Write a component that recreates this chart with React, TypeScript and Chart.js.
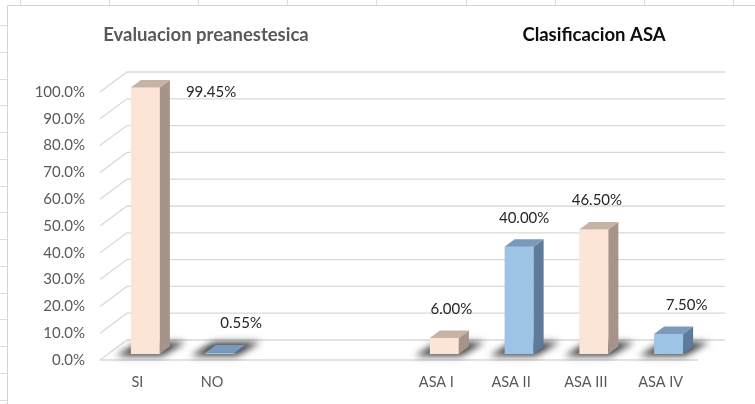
import React, { useEffect, useRef } from "react";
import { Chart, registerables } from "chart.js";

Chart.register(...registerables);

// ---- data ----
const evalCategories = ["SI", "NO"];
const evalValues = [99.45, 0.55];
const gapCategories = ["", ""];
const asaCategories = ["ASA I", "ASA II", "ASA III", "ASA IV"];
const asaValues = [6.0, 40.0, 46.5, 7.5];
const chartTitles = ["Evaluacion preanestesica", "Clasificacion ASA"];
const yMin = 0;
const yMax = 100;
const yStep = 10;

const labels = [...evalCategories, ...gapCategories, ...asaCategories];
const values: (number | null)[] = [
  ...evalValues,
  ...gapCategories.map(() => null),
  ...asaValues,
];

// ---- styling ----
const PEACH = { front: "#FCE4D6", side: "#A69389", top: "#C7B2A6" };
const BLUE = { front: "#9DC3E6", side: "#5E7B9B", top: "#7A99BD" };
const palette = [
  ...evalValues.map((_, i) => (i % 2 === 0 ? PEACH : BLUE)),
  ...gapCategories.map(() => PEACH),
  ...asaValues.map((_, i) => (i % 2 === 0 ? PEACH : BLUE)),
];
const FONT = "Lato, 'Noto Sans', sans-serif";
const GRID = "#d9d9d9";
const FLOOR = { dx: 27, dy: -20 };
const BAR_DEPTH = { dx: 10, dy: -7.5 };
const SHIFT = { dx: 8, dy: -6 };
const LABEL_NUDGE = [0, 16, 0, 0, 2, 0, -2, 13];

const threeD = {
  id: "threeD",
  beforeDraw(chart: any) {
    const { ctx, width, height } = chart;
    ctx.save();
    ctx.fillStyle = "#ffffff";
    ctx.fillRect(0, 0, width, height);
    ctx.strokeStyle = "#dcdcdc";
    ctx.lineWidth = 1;
    ctx.beginPath();
    for (let x = 20; x < width; x += 89.1) {
      ctx.moveTo(Math.round(x) + 0.5, 0);
      ctx.lineTo(Math.round(x) + 0.5, 5);
    }
    for (let y = 25; y < height; y += 26.75) {
      ctx.moveTo(0, Math.round(y) + 0.5);
      ctx.lineTo(7, Math.round(y) + 0.5);
    }
    ctx.stroke();
    ctx.strokeStyle = "#d4d4d4";
    ctx.beginPath();
    ctx.moveTo(7.5, height);
    ctx.lineTo(7.5, 5.5);
    ctx.lineTo(width, 5.5);
    ctx.stroke();
    ctx.restore();
  },
  beforeDatasetsDraw(chart: any) {
    const { ctx, chartArea, scales } = chart;
    const ys = scales.y;
    const L = chartArea.left;
    const R = chartArea.right;
    ctx.save();
    ctx.strokeStyle = GRID;
    ctx.lineWidth = 1.3;
    ctx.beginPath();
    for (let v = yMin; v <= yMax; v += yStep) {
      const yF = ys.getPixelForValue(v);
      ctx.moveTo(L, yF);
      ctx.lineTo(L + FLOOR.dx, yF + FLOOR.dy);
      ctx.lineTo(R + FLOOR.dx, yF + FLOOR.dy);
    }
    const y0 = ys.getPixelForValue(yMin);
    ctx.moveTo(L, y0);
    ctx.lineTo(R, y0);
    ctx.stroke();
    ctx.restore();

    const meta = chart.getDatasetMeta(0);
    ctx.save();
    ctx.filter = "blur(3.5px)";
    ctx.fillStyle = "rgba(40,40,40,0.9)";
    meta.data.forEach((bar: any, i: number) => {
      if (values[i] == null) return;
      const xl = bar.x - bar.width / 2 + SHIFT.dx;
      const xr = bar.x + bar.width / 2 + SHIFT.dx;
      const b = bar.base + SHIFT.dy;
      ctx.beginPath();
      ctx.moveTo(xl - 15, b + 2);
      ctx.lineTo(xr + 2, b + 2);
      ctx.lineTo(xr + 26, b - 12);
      ctx.lineTo(xl + 8, b - 12);
      ctx.closePath();
      ctx.fill();
    });
    ctx.restore();

    ctx.save();
    ctx.translate(SHIFT.dx, SHIFT.dy);
  },
  afterDatasetsDraw(chart: any) {
    const { ctx, chartArea } = chart;
    const meta = chart.getDatasetMeta(0);
    meta.data.forEach((bar: any, i: number) => {
      if (values[i] == null) return;
      const c = palette[i];
      const xl = bar.x - bar.width / 2;
      const xr = bar.x + bar.width / 2;
      const t = bar.y;
      const b = bar.base;
      ctx.fillStyle = c.side;
      ctx.beginPath();
      ctx.moveTo(xr, t);
      ctx.lineTo(xr + BAR_DEPTH.dx, t + BAR_DEPTH.dy);
      ctx.lineTo(xr + BAR_DEPTH.dx, b + BAR_DEPTH.dy);
      ctx.lineTo(xr, b);
      ctx.closePath();
      ctx.fill();
      ctx.fillStyle = c.top;
      ctx.beginPath();
      ctx.moveTo(xl, t);
      ctx.lineTo(xl + BAR_DEPTH.dx, t + BAR_DEPTH.dy);
      ctx.lineTo(xr + BAR_DEPTH.dx, t + BAR_DEPTH.dy);
      ctx.lineTo(xr, t);
      ctx.closePath();
      ctx.fill();
    });
    ctx.restore();

    ctx.save();
    ctx.font = `15px ${FONT}`;
    ctx.fillStyle = "#262626";
    ctx.textAlign = "center";
    ctx.textBaseline = "middle";
    meta.data.forEach((bar: any, i: number) => {
      const v = values[i];
      if (v == null) return;
      const txt = v.toFixed(2) + "%";
      const tw = ctx.measureText(txt).width;
      const top = bar.y + SHIFT.dy;
      let cx = bar.x + SHIFT.dx + BAR_DEPTH.dx / 2 + LABEL_NUDGE[i];
      let cy = top - 29;
      if (cy - 8 < chartArea.top) {
        cx = bar.x + SHIFT.dx + bar.width / 2 + BAR_DEPTH.dx + 16 + tw / 2;
        cy = top + 5;
      }
      ctx.fillText(txt, cx, cy);
    });
    ctx.restore();
  },
  afterDraw(chart: any) {
    const { ctx } = chart;
    ctx.save();
    ctx.textAlign = "center";
    ctx.textBaseline = "middle";
    ctx.font = `bold 18.5px ${FONT}`;
    ctx.fillStyle = "#595959";
    ctx.fillText(chartTitles[0], 206, 35);
    ctx.fillStyle = "#0d0d0d";
    ctx.fillText(chartTitles[1], 594, 35);
    ctx.restore();
  },
};

export default function App() {
  const ref = useRef<HTMLCanvasElement>(null);
  useEffect(() => {
    const chart = new Chart(ref.current as HTMLCanvasElement, {
      type: "bar",
      data: {
        labels,
        datasets: [
          {
            data: values as any,
            backgroundColor: palette.map((c) => c.front),
            borderWidth: 0,
            categoryPercentage: 1,
            barPercentage: 0.388,
            clip: false as any,
          },
        ],
      },
      options: {
        animation: false,
        responsive: false,
        devicePixelRatio: 1,
        layout: { padding: { top: 92, right: 57, bottom: 0, left: 0 } },
        plugins: {
          legend: { display: false },
          title: { display: false },
          tooltip: { enabled: false },
        },
        scales: {
          x: {
            grid: { display: false, drawTicks: false },
            border: { display: false },
            ticks: {
              color: "#595959",
              font: { family: FONT, size: 14.5 },
              padding: 14,
              maxRotation: 0,
              autoSkip: false,
            },
            afterFit: (s: any) => {
              s.height = 44;
            },
          },
          y: {
            min: yMin,
            max: yMax,
            grid: { display: false, drawTicks: false },
            border: { display: false },
            ticks: {
              stepSize: yStep,
              color: "#595959",
              font: { family: FONT, size: 15 },
              padding: 15,
              callback: (v: any) => Number(v).toFixed(1) + "%",
            },
            afterFit: (s: any) => {
              s.width = 100;
            },
          },
        },
      },
      plugins: [threeD as any],
    });
    return () => chart.destroy();
  }, []);
  return (
    <div style={{ position: "absolute", left: 0, top: 0, width: 755, height: 404, background: "#fff" }}>
      <canvas ref={ref} width={755} height={404} style={{ display: "block", width: 755, height: 404 }} />
    </div>
  );
}
